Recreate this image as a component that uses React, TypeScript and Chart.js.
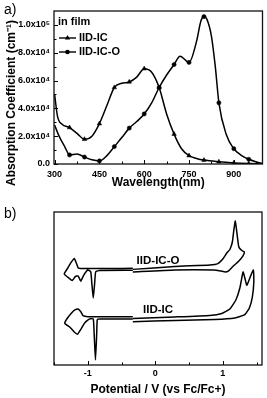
import React, { useEffect, useRef } from 'react';
import { Chart, registerables } from 'chart.js';

Chart.register(...registerables);

const FONT = '"Liberation Sans", Arial, Helvetica, sans-serif';

// ---------- Panel a: absorption spectra (values in 1e4 cm^-1) ----------
const seriesNames = ['IID-IC', 'IID-IC-O'];
const wavelengthIC = [300, 310, 325, 350, 375, 400, 425, 450, 475, 500, 525, 550, 575, 600, 625, 650, 675, 700, 725, 750, 775, 800, 850, 900, 950, 1000];
const absorptionIC = [5.0, 3.4, 2.85, 2.62, 2.2, 1.78, 2.0, 2.9, 4.2, 5.5, 5.8, 5.9, 6.25, 6.85, 6.6, 5.5, 3.6, 2.15, 1.1, 0.6, 0.4, 0.28, 0.16, 0.08, 0.03, 0.0];
const wavelengthICO = [300, 315, 335, 350, 375, 400, 425, 450, 475, 500, 525, 550, 575, 600, 625, 650, 675, 700, 720, 750, 775, 790, 800, 810, 825, 838, 850, 875, 900, 925, 950, 975, 1000];
const absorptionICO = [2.8, 2.0, 1.2, 0.65, 0.72, 0.5, 0.3, 0.22, 0.6, 1.25, 1.9, 2.58, 3.05, 3.6, 4.4, 5.5, 6.4, 7.15, 7.75, 7.3, 8.8, 10.3, 10.6, 10.4, 9.2, 7.0, 4.4, 2.1, 1.1, 0.62, 0.34, 0.15, 0.0];
const xTicksA = [300, 450, 600, 750, 900];
const xMinorA = [375, 525, 675, 825, 975];
const yTicksA = [0, 20000, 40000, 60000, 80000, 100000];
const yTickLabelsA = ['0.0', '2.0x10⁴', '4.0x10⁴', '6.0x10⁴', '8.0x10⁴', '1.0x10⁵'];
const yMinorA = [10000, 30000, 50000, 70000, 90000];
const legendTitleA = 'in film';
const xTitleA = 'Wavelength(nm)';
const yTitleA = 'Absorption Coefficient (cm⁻¹)';

// ---------- Panel b: cyclic voltammograms (current in arbitrary units) ----------
const cvICO_redV = [-0.333, -0.822, -0.882, -0.897, -0.919, -0.941, -0.956, -1.0, -1.059, -1.104, -1.141, -1.185, -1.230, -1.281, -1.348, -1.296, -1.252, -1.200, -1.170, -1.141, -1.104, -0.674, -0.333];
const cvICO_redI = [61.9, 61.8, 61.0, 54.0, 43.8, 54.0, 61.0, 62.1, 58.8, 54.8, 58.2, 57.8, 55.2, 56.9, 59.5, 63.4, 66.7, 69.6, 66.7, 63.4, 63.1, 63.0, 63.2];
const cvICO_oxV = [-0.333, 0.289, 0.807, 0.926, 1.0, 1.059, 1.104, 1.141, 1.163, 1.185, 1.207, 1.237, 1.281, 1.319, 1.296, 1.237, 1.148, 1.081, 1.037, 0.970, 0.867, 0.289, -0.333];
const cvICO_oxI = [62.5, 64.4, 65.4, 66.3, 69.3, 73.2, 75.5, 80.4, 88.2, 94.1, 86.9, 77.1, 74.8, 73.9, 71.2, 68.0, 64.4, 61.4, 60.8, 61.4, 62.1, 62.1, 60.8];
const cvIC_redV = [-0.333, -0.822, -0.859, -0.868, -0.886, -0.905, -0.918, -0.960, -1.0, -1.048, -1.10, -1.153, -1.20, -1.26, -1.341, -1.30, -1.24, -1.19, -1.144, -1.10, -1.07, -1.0, -0.333];
const cvIC_redI = [30.1, 30.1, 29.7, 20.0, 3.3, 20.0, 30.0, 30.2, 29.4, 27.4, 23.5, 20.1, 21.6, 24.5, 27.3, 30.7, 34.0, 36.0, 36.6, 34.6, 32.2, 31.6, 31.6];
const cvIC_oxV = [-0.333, 0.289, 0.807, 0.985, 1.104, 1.193, 1.252, 1.300, 1.333, 1.356, 1.400, 1.452, 1.459, 1.437, 1.393, 1.326, 1.178, 0.881, 0.289, -0.333];
const cvIC_oxI = [30.4, 31.4, 32.4, 33.7, 36.6, 42.5, 50.3, 60.8, 55.6, 52.1, 56.9, 62.1, 54.2, 44.4, 37.3, 33.0, 30.7, 29.7, 29.1, 28.3];
const xTicksB = [-1, 0, 1];
const xTickLabelsB = ['-1', '0', '1'];
const xMinorB = [-1.5, -0.5, 0.5, 1.5];
const cvLabels = [
  { text: 'IID-IC-O', x: 0.04, y: 68.2 },
  { text: 'IID-IC', x: 0.04, y: 35.9 },
];
const xTitleB = 'Potential / V (vs Fc/Fc+)';

const toPoints = (xs: number[], ys: number[], k = 1) => xs.map((x, i) => ({ x, y: ys[i] * k }));

function drawTicks(ctx: CanvasRenderingContext2D, chart: any, xMajor: number[], xMinor: number[], yMajor: number[], yMinor: number[]) {
  const a = chart.chartArea;
  const xs = chart.scales.x;
  const ys = chart.scales.y;
  ctx.beginPath();
  ctx.lineWidth = 1;
  xMajor.forEach((v) => { const p = Math.round(xs.getPixelForValue(v)) + 0.5; ctx.moveTo(p, a.bottom); ctx.lineTo(p, a.bottom - 4); });
  xMinor.forEach((v) => { const p = Math.round(xs.getPixelForValue(v)) + 0.5; ctx.moveTo(p, a.bottom); ctx.lineTo(p, a.bottom - 2.5); });
  yMajor.forEach((v) => { const p = Math.round(ys.getPixelForValue(v)) + 0.5; ctx.moveTo(a.left, p); ctx.lineTo(a.left + 4, p); });
  yMinor.forEach((v) => { const p = Math.round(ys.getPixelForValue(v)) + 0.5; ctx.moveTo(a.left, p); ctx.lineTo(a.left + 2.5, p); });
  ctx.stroke();
}

function drawFrame(ctx: CanvasRenderingContext2D, a: any) {
  ctx.lineWidth = 1.3;
  ctx.strokeStyle = '#111';
  ctx.strokeRect(a.left, a.top, a.right - a.left, a.bottom - a.top);
}

const absDecor = {
  id: 'absDecor',
  afterDraw(chart: any) {
    const { ctx, chartArea: a } = chart;
    ctx.save();
    ctx.strokeStyle = '#000';
    ctx.fillStyle = '#000';
    drawFrame(ctx, a);
    ctx.strokeStyle = '#000';
    drawTicks(ctx, chart, xTicksA, xMinorA, yTicksA, yMinorA);
    // legend
    ctx.font = `bold 11px ${FONT}`;
    ctx.textAlign = 'left';
    ctx.textBaseline = 'middle';
    ctx.fillText(legendTitleA, a.left + 4, a.top + 11);
    const rows = [a.top + 27, a.top + 41];
    rows.forEach((ry, i) => {
      ctx.beginPath();
      ctx.lineWidth = 1.4;
      ctx.moveTo(a.left + 5, ry);
      ctx.lineTo(a.left + 22, ry);
      ctx.stroke();
      const mx = a.left + 13.5;
      ctx.beginPath();
      if (i === 0) {
        const r = 3;
        ctx.moveTo(mx, ry - r);
        ctx.lineTo(mx + r * 0.87, ry + r * 0.5);
        ctx.lineTo(mx - r * 0.87, ry + r * 0.5);
        ctx.closePath();
      } else {
        ctx.arc(mx, ry, 2.3, 0, Math.PI * 2);
      }
      ctx.fill();
      ctx.fillText(seriesNames[i], a.left + 25, ry);
    });
    // y title
    ctx.save();
    ctx.translate(12, 103);
    ctx.rotate(-Math.PI / 2);
    ctx.font = `bold 12px ${FONT}`;
    ctx.textAlign = 'center';
    ctx.textBaseline = 'middle';
    ctx.fillText(yTitleA, 0, 0);
    ctx.restore();
    // panel label
    ctx.font = `14px ${FONT}`;
    ctx.textAlign = 'left';
    ctx.textBaseline = 'middle';
    ctx.fillText('a)', 4, 10);
    ctx.restore();
  },
};

const cvDecor = {
  id: 'cvDecor',
  afterDraw(chart: any) {
    const { ctx, chartArea: a, scales } = chart;
    ctx.save();
    ctx.strokeStyle = '#000';
    ctx.fillStyle = '#000';
    drawFrame(ctx, a);
    ctx.strokeStyle = '#000';
    drawTicks(ctx, chart, xTicksB, xMinorB, [], []);
    ctx.font = `bold 11.5px ${FONT}`;
    ctx.textAlign = 'center';
    ctx.textBaseline = 'middle';
    cvLabels.forEach((l) => {
      ctx.fillText(l.text, scales.x.getPixelForValue(l.x), scales.y.getPixelForValue(l.y));
    });
    ctx.font = `14px ${FONT}`;
    ctx.textAlign = 'left';
    ctx.fillText('b)', 4, 14);
    ctx.restore();
  },
};

const tickFont = { family: FONT, size: 9, weight: 'bold' as const };
const titleFont = { family: FONT, size: 12, weight: 'bold' as const };

export default function App() {
  const refA = useRef<HTMLCanvasElement | null>(null);
  const refB = useRef<HTMLCanvasElement | null>(null);

  useEffect(() => {
    if (!refA.current || !refB.current) return;
    const markerRadius = (r: number) => (ctx: any) => (ctx.raw && ctx.raw.x % 50 === 0 && ctx.raw.x > 300 ? r : 0);
    const chartA = new Chart(refA.current, {
      type: 'line',
      data: {
        datasets: [
          {
            label: seriesNames[0],
            data: toPoints(wavelengthIC, absorptionIC, 1e4),
            borderColor: '#000',
            borderWidth: 1.5,
            pointStyle: 'triangle',
            pointRadius: markerRadius(2.6) as any,
            pointBackgroundColor: '#000',
            pointBorderColor: '#000',
            pointBorderWidth: 0.5,
            cubicInterpolationMode: 'monotone',
            fill: false,
          },
          {
            label: seriesNames[1],
            data: toPoints(wavelengthICO, absorptionICO, 1e4),
            borderColor: '#000',
            borderWidth: 1.5,
            pointStyle: 'circle',
            pointRadius: markerRadius(2.1) as any,
            pointBackgroundColor: '#000',
            pointBorderColor: '#000',
            pointBorderWidth: 0.5,
            cubicInterpolationMode: 'monotone',
            fill: false,
          },
        ],
      },
      options: {
        responsive: false,
        animation: false,
        events: [],
        layout: { padding: { top: 11, right: 4, left: 0, bottom: 0 } },
        plugins: { legend: { display: false }, tooltip: { enabled: false } },
        scales: {
          x: {
            type: 'linear',
            min: 298,
            max: 996,
            afterBuildTicks: (s: any) => { s.ticks = xTicksA.map((v) => ({ value: v })); },
            afterFit: (s: any) => { s.height = 36; },
            grid: { display: false, drawTicks: false },
            border: { display: false },
            ticks: { color: '#000', font: tickFont, padding: 5, maxRotation: 0, autoSkip: false },
            title: { display: true, text: xTitleA, color: '#000', font: titleFont, padding: { top: 0, bottom: 10 } },
          },
          y: {
            type: 'linear',
            min: 0,
            max: 110000,
            afterBuildTicks: (s: any) => { s.ticks = yTicksA.map((v) => ({ value: v })); },
            afterFit: (s: any) => { s.width = 54; },
            grid: { display: false, drawTicks: false },
            border: { display: false },
            ticks: {
              color: '#000',
              font: tickFont,
              padding: 4,
              autoSkip: false,
              callback: (v: any) => yTickLabelsA[yTicksA.indexOf(Number(v))] ?? '',
            },
          },
        },
      },
      plugins: [absDecor],
    });

    const cvStyle = { borderColor: '#000', borderWidth: 1.5, pointRadius: 0, tension: 0.15, fill: false };
    const chartB = new Chart(refB.current, {
      type: 'line',
      data: {
        datasets: [
          { label: 'IID-IC-O red', data: toPoints(cvICO_redV, cvICO_redI), ...cvStyle },
          { label: 'IID-IC-O ox', data: toPoints(cvICO_oxV, cvICO_oxI), ...cvStyle },
          { label: 'IID-IC red', data: toPoints(cvIC_redV, cvIC_redI), ...cvStyle },
          { label: 'IID-IC ox', data: toPoints(cvIC_oxV, cvIC_oxI), ...cvStyle },
        ],
      },
      options: {
        responsive: false,
        animation: false,
        events: [],
        layout: { padding: { top: 12, right: 5, left: 54, bottom: 0 } },
        plugins: { legend: { display: false }, tooltip: { enabled: false } },
        scales: {
          x: {
            type: 'linear',
            min: -1.5,
            max: 1.58,
            afterBuildTicks: (s: any) => { s.ticks = xTicksB.map((v) => ({ value: v })); },
            afterFit: (s: any) => { s.height = 33; },
            grid: { display: false, drawTicks: false },
            border: { display: false },
            ticks: {
              color: '#000',
              font: tickFont,
              padding: 3,
              maxRotation: 0,
              autoSkip: false,
              callback: (v: any) => xTickLabelsB[xTicksB.indexOf(Number(v))] ?? '',
            },
            title: { display: true, text: xTitleB, color: '#000', font: titleFont, padding: { top: 0, bottom: 1 } },
          },
          y: { type: 'linear', min: 0, max: 100, display: false },
        },
      },
      plugins: [cvDecor],
    });

    return () => {
      chartA.destroy();
      chartB.destroy();
    };
  }, []);

  return (
    <div style={{ position: 'absolute', left: 0, top: 0, width: 267, height: 398, background: '#fff' }}>
      <canvas ref={refA} width={267} height={200} style={{ position: 'absolute', left: 0, top: 0, width: 267, height: 200 }} />
      <canvas ref={refB} width={267} height={198} style={{ position: 'absolute', left: 0, top: 200, width: 267, height: 198 }} />
    </div>
  );
}
